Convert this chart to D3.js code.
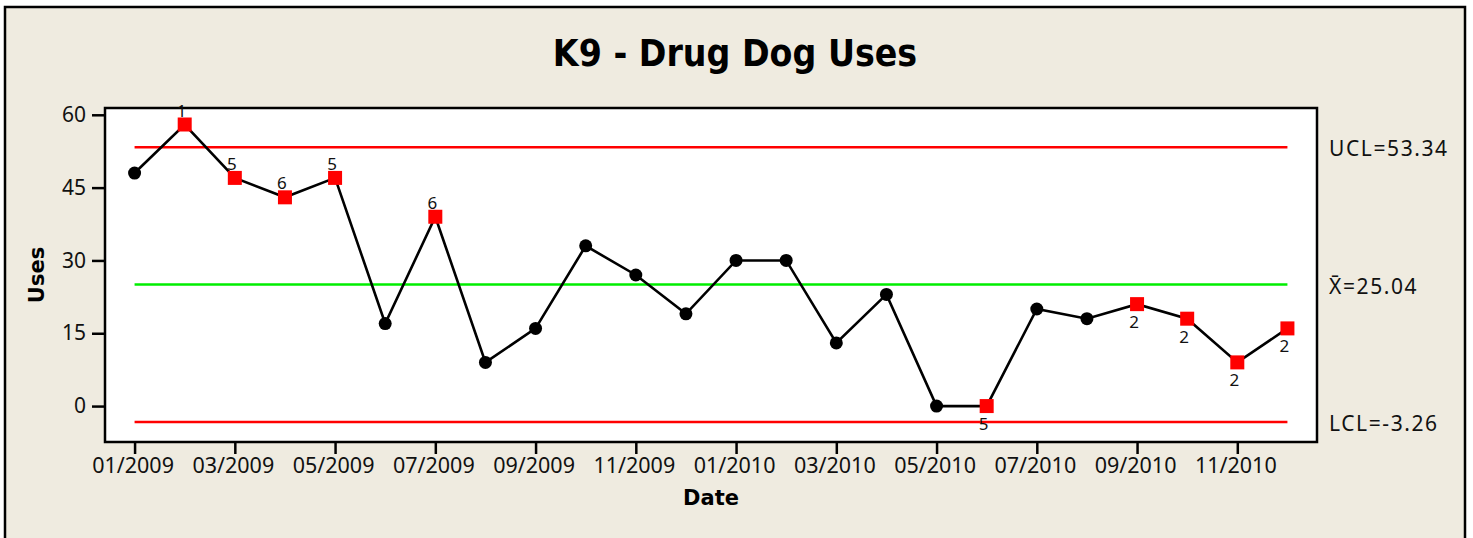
<!DOCTYPE html>
<html>
<head>
<meta charset="utf-8">
<script src="https://cdn.jsdelivr.net/npm/d3@7"></script>
<style>
  html, body { margin: 0; padding: 0; background: #ffffff; }
  svg { display: block; }
  text { font-family: "Noto Sans", "DejaVu Sans", sans-serif; fill: #111; }
</style>
</head>
<body>
<svg id="chart" width="1473" height="538"></svg>
<script>
// ---------- data ----------
const months = ["01/2009","02/2009","03/2009","04/2009","05/2009","06/2009","07/2009","08/2009","09/2009","10/2009","11/2009","12/2009",
                "01/2010","02/2010","03/2010","04/2010","05/2010","06/2010","07/2010","08/2010","09/2010","10/2010","11/2010","12/2010"];
const uses = [48, 58, 47, 43, 47, 17, 39, 9, 16, 33, 27, 19, 30, 30, 13, 23, 0, 0, 20, 18, 21, 18, 9, 16];
const testLabels = ["", "1", "5", "6", "5", "", "6", "", "", "", "", "", "", "", "", "", "", "5", "", "", "2", "2", "2", "2"];
const labelAbove = [false, true, true, true, true, false, true, false, false, false, false, false, false, false, false, false, false, false, false, false, false, false, false, false];
const xTickLabels = ["01/2009","03/2009","05/2009","07/2009","09/2009","11/2009","01/2010","03/2010","05/2010","07/2010","09/2010","11/2010"];
const yTickValues = [0, 15, 30, 45, 60];
const ucl = 53.34, centerLine = 25.04, lcl = -3.26;
const controlLabels = ["UCL=53.34", "X\u0304=25.04", "LCL=-3.26"];
const titleText = "K9 - Drug Dog Uses";
const xTitle = "Date", yTitle = "Uses";

// ---------- layout ----------
const svg = d3.select("#chart");
const plot = { left: 105, top: 108, right: 1317, bottom: 442 };

svg.append("rect").attr("x", 5).attr("y", 7).attr("width", 1460).attr("height", 545)
  .attr("fill", "#EFEBE0").attr("stroke", "#000").attr("stroke-width", 2.5);

svg.append("rect").attr("x", plot.left).attr("y", plot.top)
  .attr("width", plot.right - plot.left).attr("height", plot.bottom - plot.top)
  .attr("fill", "#fff").attr("stroke", "#000").attr("stroke-width", 2.5);

const x = d3.scalePoint().domain(months).range([plot.left, plot.right]).padding(0.59);
const y = d3.scaleLinear().domain([-7.4, 61.4]).range([plot.bottom, plot.top]);

// title
svg.append("text").attr("x", 735).attr("y", 66).attr("text-anchor", "middle")
  .style("font-family", "'DejaVu Sans Condensed', 'DejaVu Sans', sans-serif")
  .style("font-stretch", "condensed")
  .style("font-weight", "bold").style("font-size", "37px").style("fill", "#000")
  .text(titleText);

// axes
const yAxis = d3.axisLeft(y).tickValues(yTickValues).tickSize(12).tickPadding(6);
const gy = svg.append("g").attr("transform", `translate(${plot.left - 1},0)`).call(yAxis);
gy.select(".domain").remove();
gy.selectAll(".tick line").attr("stroke", "#000").attr("stroke-width", 2.5);
gy.selectAll(".tick text").style("font-size", "21px").style("font-family", "'Noto Sans'").attr("fill", "#111");

const xAxis = d3.axisBottom(x).tickValues(xTickLabels).tickSize(11).tickPadding(4);
const gx = svg.append("g").attr("transform", `translate(0,${plot.bottom + 1})`).call(xAxis);
gx.select(".domain").remove();
gx.selectAll(".tick line").attr("stroke", "#000").attr("stroke-width", 2.5);
gx.selectAll(".tick text").style("font-size", "21.5px").style("font-family", "'Noto Sans'")
  .attr("dx", -2).attr("fill", "#111");

// axis titles
svg.append("text").attr("x", (plot.left + plot.right) / 2).attr("y", 505).attr("text-anchor", "middle")
  .style("font-family", "'DejaVu Sans'")
  .style("font-weight", "bold").style("font-size", "21px").style("fill", "#000").text(xTitle);
svg.append("text").attr("transform", `translate(44,${(plot.top + plot.bottom) / 2}) rotate(-90)`)
  .attr("text-anchor", "middle").style("font-family", "'DejaVu Sans'")
  .style("font-weight", "bold").style("font-size", "21px").style("fill", "#000").text(yTitle);

// control lines
const x0 = x(months[0]), x1 = x(months[months.length - 1]);
const ctl = [
  { v: ucl, color: "#FF0000", label: controlLabels[0] },
  { v: centerLine, color: "#00EE00", label: controlLabels[1] },
  { v: lcl, color: "#FF0000", label: controlLabels[2] }
];
svg.selectAll("line.ctl").data(ctl).join("line").attr("class", "ctl")
  .attr("x1", x0).attr("x2", x1).attr("y1", d => y(d.v)).attr("y2", d => y(d.v))
  .attr("stroke", d => d.color).attr("stroke-width", 2.5);
svg.selectAll("text.ctl").data(ctl).join("text").attr("class", "ctl")
  .attr("x", 1329).attr("y", d => y(d.v) + 9)
  .style("font-size", "21px").style("letter-spacing", "1.6px").attr("fill", "#111")
  .text(d => d.label);

// data line
const pts = months.map((m, i) => ({ m, v: uses[i], lab: testLabels[i], above: labelAbove[i] }));
svg.append("path").datum(pts)
  .attr("d", d3.line().x(d => x(d.m)).y(d => y(d.v)))
  .attr("fill", "none").attr("stroke", "#000").attr("stroke-width", 2.6);

// markers
svg.selectAll("circle.pt").data(pts.filter(d => !d.lab)).join("circle").attr("class", "pt")
  .attr("cx", d => x(d.m)).attr("cy", d => y(d.v)).attr("r", 6.5).attr("fill", "#000");
svg.selectAll("rect.pt").data(pts.filter(d => d.lab)).join("rect").attr("class", "pt")
  .attr("x", d => x(d.m) - 7).attr("y", d => y(d.v) - 7).attr("width", 14).attr("height", 14)
  .attr("fill", "#FF0000");
svg.selectAll("text.flag").data(pts.filter(d => d.lab)).join("text").attr("class", "flag")
  .attr("x", d => x(d.m) - 3).attr("y", d => d.above ? y(d.v) - 8 : y(d.v) + 24)
  .attr("text-anchor", "middle").style("font-size", "17px").attr("fill", "#111")
  .text(d => d.lab);
</script>
</body>
</html>
